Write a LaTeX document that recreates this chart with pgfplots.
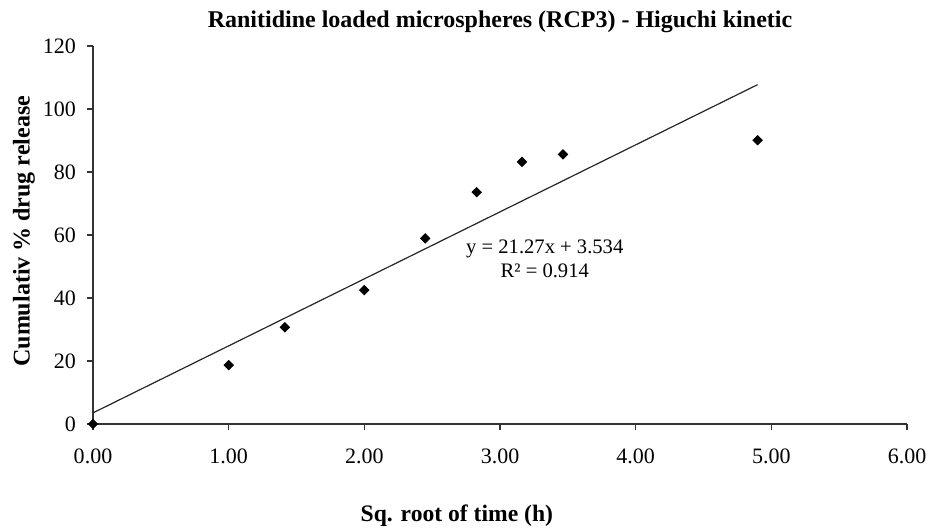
\documentclass[border=0pt]{standalone}
\usepackage{fontspec}
\setmainfont{Liberation Serif}
\usepackage{pgfplots}
\pgfplotsset{compat=1.18}
\begin{document}
\begin{tikzpicture}
\begin{axis}[
  scale only axis,
  width=407pt, height=189pt,
  at={(0,0)}, anchor=south west,
  xmin=0, xmax=6, ymin=0, ymax=120,
  axis lines*=left,
  axis line style={line width=0.6pt, black!80},
  xtick={0,1,2,3,4,5,6},
  ytick={0,20,40,60,80,100,120},
  xticklabel={\pgfmathprintnumber[fixed,fixed zerofill,precision=2]{\tick}},
  /pgf/number format/assume math mode=true,
  tick align=outside,
  major tick length=3pt,
  tick style={line width=0.6pt, black!80},
  ticklabel style={font=\fontsize{11}{13}\selectfont},
  xticklabel style={yshift=-6pt},
  yticklabel style={xshift=-2pt},
  title={\textbf{Ranitidine loaded microspheres (RCP3) - Higuchi kinetic}},
  title style={font=\fontsize{12}{14}\selectfont, at={(axis description cs:0.5,1)}, anchor=center, yshift=6pt},
  xlabel={\textbf{Sq. root of time (h)}},
  xlabel style={font=\fontsize{11.8}{14}\selectfont, at={(axis description cs:0.447,0)}, anchor=center, yshift=-46pt},
  ylabel={\textbf{Cumulativ \% drug release}},
  ylabel style={font=\fontsize{12}{14}\selectfont, at={(axis description cs:0,0.51)}, anchor=center, yshift=34.5pt},
  clip=false,
]
\addplot[only marks, mark=square*, mark size=1.65pt, mark options={rotate=45}, black] coordinates {
  (0,0) (1,18.7) (1.414,30.7) (2,42.5) (2.449,58.9) (2.828,73.6) (3.162,83.2) (3.464,85.6) (4.899,90.1)
};
\addplot[black!85, line width=0.6pt] coordinates {(0,3.534) (4.899,107.74)};
\node[align=center, font=\fontsize{10.3}{12.3}\selectfont, inner sep=0pt] at (axis cs:3.33,52.5) {y = 21.27x + 3.534\\R² = 0.914};
\end{axis}
\pgfresetboundingbox
\path (-46.5pt,-51.5pt) rectangle (418.5pt,212pt);
\end{tikzpicture}
\end{document}
